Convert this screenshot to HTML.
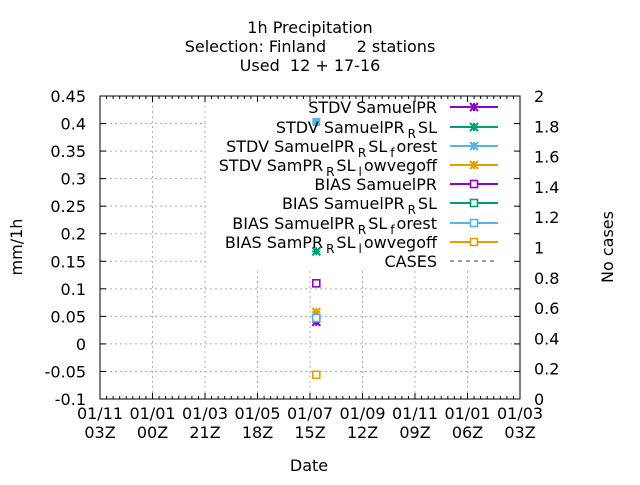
<!DOCTYPE html>
<html><head><meta charset="utf-8"><style>
body{margin:0;background:#fff}
svg{font-family:"DejaVu Sans","Liberation Sans",sans-serif}
</style></head><body>
<svg width="640" height="480" viewBox="0 0 640 480" id="c">
<g id="grid"></g>
<rect x="206" y="98" width="311" height="170" fill="#fff"/>
<g id="axes"></g>
<g id="pts"></g>
<g id="legend"></g>
<g font-size="16" text-anchor="middle" fill="#000">
<text x="310" y="33">1h Precipitation</text>
<text x="310" y="52" xml:space="preserve">Selection: Finland      2 stations</text>
<text x="310" y="71" xml:space="preserve">Used  12 + 17-16</text>
<text x="309" y="471">Date</text>
<text transform="translate(22,247) rotate(-90)">mm/1h</text>
<text transform="translate(613,247) rotate(-90)">No cases</text>
</g>
</svg>
<script>
const yTicks=[-0.1,-0.05,0,0.05,0.1,0.15,0.2,0.25,0.3,0.35,0.4,0.45];
const y2Ticks=[0,0.2,0.4,0.6,0.8,1,1.2,1.4,1.6,1.8,2];
const xTop=["01/11","01/01","01/03","01/05","01/07","01/09","01/11","01/01","01/03"];
const xBot=["03Z","00Z","21Z","18Z","15Z","12Z","09Z","06Z","03Z"];
const seriesNames=["STDV SamuelPR","STDV SamuelPR_RSL","STDV SamuelPR_RSL_forest","STDV SamPR_RSL_lowvegoff","BIAS SamuelPR","BIAS SamuelPR_RSL","BIAS SamuelPR_RSL_forest","BIAS SamPR_RSL_lowvegoff"];
const seriesColors=["#9400d3","#009e73","#56b4e9","#e69f00","#9400d3","#009e73","#56b4e9","#e69f00"];
const pointX=4.12;
const seriesValues=[0.04,0.168,0.403,0.058,0.11,0.047,0.047,-0.056];
const L=100,R=520,T=96,B=399;
const ys=v=>B-(v+0.1)/0.55*(B-T);
const y2s=v=>B-v/2*(B-T);
const xs=i=>L+i*(R-L)/8;
const NS="http://www.w3.org/2000/svg";
function mk(p,t,a,txt){const e=document.createElementNS(NS,t);for(const k in a)e.setAttribute(k,a[k]);if(txt!==undefined)e.textContent=txt;p.appendChild(e);return e;}
const grid=document.getElementById('grid'),axes=document.getElementById('axes'),pts=document.getElementById('pts'),leg=document.getElementById('legend');
yTicks.forEach((v,i)=>{
 if(i>0&&i<yTicks.length-1){const g=mk(grid,'line',{x1:L,x2:R,y1:ys(v),y2:ys(v),stroke:'#b0b0b0','stroke-dasharray':'2,3','stroke-width':1});
 
 }
 const t=mk(axes,'text',{x:L-14,y:ys(v)+6,'text-anchor':'end','font-size':16},String(v));
 
 
 mk(axes,'line',{x1:L,x2:L+6,y1:ys(v),y2:ys(v),stroke:'#000'});
 mk(axes,'line',{x1:R,x2:R-6,y1:ys(v),y2:ys(v),stroke:'#000'});
});
y2Ticks.forEach(v=>{
 const t=mk(axes,'text',{x:R+14,y:y2s(v)+6,'font-size':16},String(v));
 
 
});
xTop.forEach((s,i)=>{
 if(i>0&&i<8){const g=mk(grid,'line',{x1:xs(i),x2:xs(i),y1:T,y2:B,stroke:'#b0b0b0','stroke-dasharray':'2,3'});
 
 }
 mk(axes,'line',{x1:xs(i),x2:xs(i),y1:B,y2:B-6,stroke:'#000'});
 mk(axes,'line',{x1:xs(i),x2:xs(i),y1:T,y2:T+6,stroke:'#000'});
 for(let k=1;k<8&&i<8;k++){const xx=xs(i)+k*(R-L)/64;mk(axes,'line',{x1:xx,x2:xx,y1:B,y2:B-3,stroke:'#000'});mk(axes,'line',{x1:xx,x2:xx,y1:T,y2:T+3,stroke:'#000'});}
 const t=mk(axes,'text',{x:xs(i),y:419,'text-anchor':'middle','font-size':16},s);
 
 
 const t2=mk(axes,'text',{x:xs(i),y:438,'text-anchor':'middle','font-size':16},xBot[i]);
 
 
});
const fr=mk(axes,'rect',{x:L,y:T,width:R-L,height:B-T,fill:'none',stroke:'#000'});


function star(p,x,y,c){mk(p,'path',{d:`M${x-4},${y-4}L${x+4},${y+4}M${x-4},${y+4}L${x+4},${y-4}M${x-4},${y}H${x+4}M${x},${y-4}V${y+4}`,stroke:c,'stroke-width':2,fill:'none'});}
function box(p,x,y,c){mk(p,'rect',{x:x-3.5,y:y-3.5,width:7,height:7,stroke:c,'stroke-width':1.6,fill:'#fff'});}
seriesValues.forEach((v,i)=>{
 const g=mk(pts,'g',{});
 
 
 const x=xs(pointX),y=ys(v);
 if(i==2){mk(g,'rect',{x:x-4,y:y-4,width:8,height:8,fill:seriesColors[i]});}
 else if(i<4)star(g,x,y,seriesColors[i]);else box(g,x,y,seriesColors[i]);
});
const rowsY=[107,127,146,165,184,203,223,242,261];
const legLabels=[['STDV SamuelPR'],['STDV SamuelPR','R','SL'],['STDV SamuelPR','R','SL','f','orest'],['STDV SamPR','R','SL','l','owvegoff'],['BIAS SamuelPR'],['BIAS SamuelPR','R','SL'],['BIAS SamuelPR','R','SL','f','orest'],['BIAS SamPR','R','SL','l','owvegoff'],['CASES']];
legLabels.forEach((parts,i)=>{
 const g=mk(leg,'g',{});
 
 
 const y=rowsY[i]+6;
 const t=mk(g,'text',{x:437,y:y,'text-anchor':'end','font-size':16});
 parts.forEach((p,k)=>{const s=mk(t,'tspan',{},p);if(k%2==1){s.setAttribute('font-size','12');s.setAttribute('dy','5');s.setAttribute('dx','3');}else if(k>0){s.setAttribute('dy','-5');s.setAttribute('dx','2');}});
 if(i<8){mk(g,'line',{x1:450,x2:498,y1:rowsY[i],y2:rowsY[i],stroke:seriesColors[i],'stroke-width':2});
  if(i<4)star(g,474,rowsY[i],seriesColors[i]);else box(g,474,rowsY[i],seriesColors[i]);}
 else mk(g,'line',{x1:450,x2:498,y1:rowsY[i],y2:rowsY[i],stroke:'#a0a0a0','stroke-width':2,'stroke-dasharray':'4,4'});
});
</script>
</body></html>
